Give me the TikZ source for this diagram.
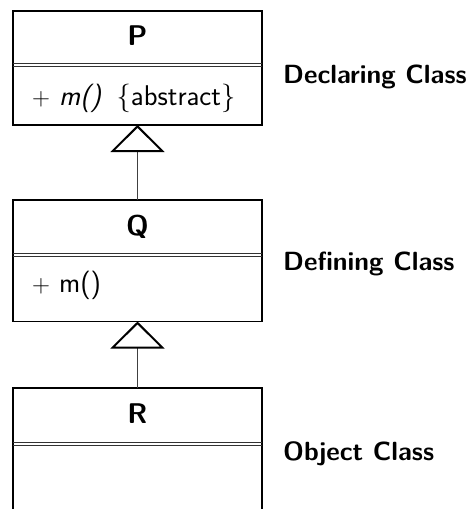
\documentclass[tikz,border=0pt]{standalone}
\usetikzlibrary{arrows.meta}
\tikzset{
  classbox/.style={draw, line width=1.3pt, minimum width=249pt, inner sep=0pt, outer sep=0pt, anchor=north},
  sepline/.style={line width=1pt, black!80},
  title/.style={font=\fontsize{28.5}{32}\selectfont\sffamily\bfseries, inner sep=0pt, anchor=base},
  member/.style={font=\fontsize{28.5}{32}\selectfont\sffamily, inner sep=0pt, anchor=base west},
  role/.style={font=\fontsize{26.3}{30}\selectfont\sffamily\bfseries, inner sep=0pt, anchor=base west},
  inherit/.style={line width=0.8pt, black!75, -{Triangle[open, length=27pt, width=54pt, line width=2pt, color=black]}}
}
\begin{document}
\begin{tikzpicture}[x=1pt, y=-1pt]
\useasboundingbox (0,0) rectangle (468,509);
% P
\node[classbox, minimum height=114pt] (P) at (137.5,11) {};
\draw[sepline] (13,63) -- (262,63);
\draw[sepline] (13,66.5) -- (262,66.5);
\node[title] (Pt) at (137.5,45) {P};
\node[member] (Pm) at (32,105) {$+$ \textit{m()}\hspace{0.5em}\{abstract\}};
\node[role] (Pr) at (283,83) {Declaring Class};
% Q
\node[classbox, minimum height=121.5pt] (Q) at (137.5,200) {};
\draw[sepline] (13,253) -- (262,253);
\draw[sepline] (13,256.5) -- (262,256.5);
\node[title] (Qt) at (137.5,235) {Q};
\node[member] (Qm) at (32,292) {$+$ m()};
\node[role] (Qr) at (283,270) {Defining Class};
% R
\node[classbox, minimum height=135pt] (R) at (137.5,388) {};
\draw[sepline] (13,442) -- (262,442);
\draw[sepline] (13,445.5) -- (262,445.5);
\node[title] (Rt) at (137.5,423) {R};
\node[role] (Rr) at (283,460) {Object Class};
% generalizations
\draw[inherit] (Q.north) -- (P.south);
\draw[inherit] (R.north) -- (Q.south);
\end{tikzpicture}
\end{document}
